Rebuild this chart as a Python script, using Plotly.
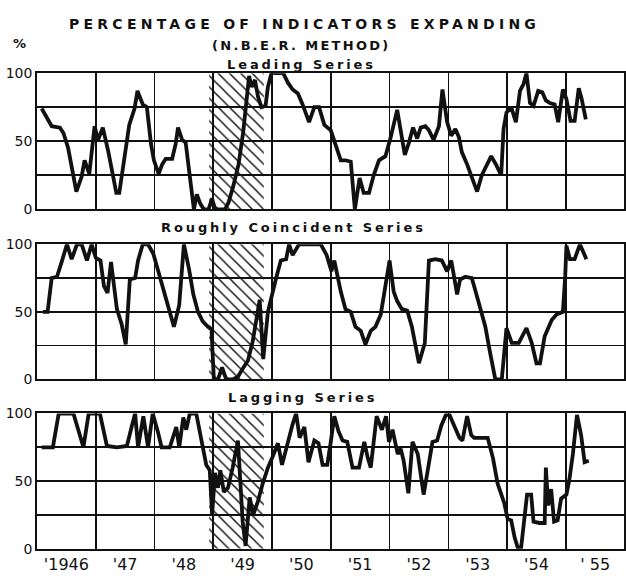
import plotly.graph_objects as go
from plotly.subplots import make_subplots

# ---------------- data ----------------
lead_t = [1946.08, 1946.25, 1946.39, 1946.45, 1946.53, 1946.62, 1946.67, 1946.76, 1946.81, 1946.89,
          1946.98, 1947.04, 1947.12, 1947.21, 1947.29, 1947.35, 1947.40, 1947.52, 1947.57, 1947.66,
          1947.71, 1947.80, 1947.87, 1947.94, 1947.99, 1948.07, 1948.13, 1948.19, 1948.30, 1948.36,
          1948.40, 1948.47, 1948.53, 1948.61, 1948.67, 1948.72, 1948.78, 1948.84, 1948.92, 1948.98,
          1949.03, 1949.20, 1949.26, 1949.34, 1949.43, 1949.51, 1949.57, 1949.61, 1949.65, 1949.71,
          1949.76, 1949.82, 1949.89, 1949.93, 1949.99, 1950.19, 1950.27, 1950.35, 1950.44, 1950.52,
          1950.63, 1950.72, 1950.80, 1950.89, 1951.00, 1951.08, 1951.17, 1951.25, 1951.34, 1951.41,
          1951.49, 1951.56, 1951.65, 1951.73, 1951.82, 1951.93, 1952.02, 1952.13, 1952.19, 1952.26,
          1952.33, 1952.40, 1952.47, 1952.53, 1952.61, 1952.67, 1952.75, 1952.84, 1952.90, 1952.98,
          1953.05, 1953.12, 1953.18, 1953.23, 1953.32, 1953.40, 1953.49, 1953.57, 1953.66, 1953.73,
          1953.81, 1953.90, 1953.94, 1953.99, 1954.07, 1954.15, 1954.22, 1954.28, 1954.33, 1954.39,
          1954.45, 1954.53, 1954.60, 1954.66, 1954.73, 1954.81, 1954.87, 1954.95, 1955.01, 1955.08,
          1955.15, 1955.22, 1955.27, 1955.34]
lead_v = [74, 61, 60, 56, 45, 26, 13, 24, 36, 26,
          61, 51, 60, 43, 26, 12, 12, 48, 62, 74,
          87, 77, 75, 48, 36, 26, 33, 37, 37, 48,
          60, 51, 49, 21, 0, 11, 4, 0, 0, 8,
          0, 0, 5, 17, 33, 57, 81, 98, 90, 95,
          83, 75, 76, 90, 100, 100, 93, 88, 85, 77,
          64, 75, 75, 62, 58, 48, 36, 36, 35, 0,
          23, 12, 12, 25, 36, 39, 53, 73, 57, 40,
          49, 60, 52, 60, 61, 58, 51, 61, 88, 64,
          54, 59, 53, 42, 33, 24, 13, 25, 33, 39,
          33, 25, 59, 71, 75, 64, 87, 92, 100, 78,
          76, 87, 86, 80, 78, 77, 64, 88, 81, 65,
          65, 89, 81, 66]

coin_t = [1946.10, 1946.18, 1946.25, 1946.34, 1946.42, 1946.51, 1946.59, 1946.68, 1946.76, 1946.85,
          1946.93, 1947.00, 1947.08, 1947.14, 1947.20, 1947.26, 1947.36, 1947.44, 1947.51, 1947.58,
          1947.67, 1947.72, 1947.80, 1947.89, 1947.98, 1948.06, 1948.18, 1948.26, 1948.33, 1948.42,
          1948.50, 1948.59, 1948.66, 1948.74, 1948.82, 1948.91, 1948.97, 1949.01, 1949.08, 1949.15,
          1949.22, 1949.33, 1949.42, 1949.50, 1949.59, 1949.67, 1949.79, 1949.85, 1949.93, 1950.07,
          1950.15, 1950.24, 1950.29, 1950.35, 1950.46, 1950.83, 1950.93, 1951.01, 1951.06, 1951.17,
          1951.25, 1951.34, 1951.42, 1951.51, 1951.59, 1951.68, 1951.76, 1951.85, 1951.93, 1952.00,
          1952.07, 1952.13, 1952.21, 1952.30, 1952.38, 1952.50, 1952.60, 1952.67, 1952.78, 1952.89,
          1952.98, 1953.05, 1953.15, 1953.20, 1953.29, 1953.40, 1953.51, 1953.63, 1953.71, 1953.80,
          1953.91, 1953.99, 1954.08, 1954.20, 1954.33, 1954.42, 1954.50, 1954.56, 1954.64, 1954.76,
          1954.84, 1954.95, 1954.99, 1955.01, 1955.07, 1955.15, 1955.24, 1955.35]
coin_v = [50, 50, 75, 76, 87, 100, 89, 100, 100, 88,
          100, 90, 88, 69, 64, 87, 52, 41, 26, 74,
          75, 88, 100, 100, 93, 81, 64, 52, 39, 55,
          100, 81, 63, 50, 43, 39, 37, 0, 0, 9,
          0, 0, 2, 8, 14, 28, 59, 15, 50, 75,
          88, 89, 100, 92, 100, 100, 92, 80, 88, 65,
          52, 50, 39, 36, 26, 36, 39, 48, 70, 88,
          65, 58, 52, 51, 39, 12, 27, 88, 89, 88,
          80, 88, 63, 74, 76, 75, 58, 39, 20, 0,
          0, 38, 27, 27, 38, 27, 12, 12, 32, 44,
          48, 50, 77, 99, 89, 89, 100, 89]

lag_t = [1946.08, 1946.27, 1946.37, 1946.62, 1946.79, 1946.88, 1947.07, 1947.19, 1947.36, 1947.53,
         1947.61, 1947.67, 1947.72, 1947.81, 1947.89, 1947.97, 1948.06, 1948.12, 1948.26, 1948.37,
         1948.42, 1948.49, 1948.54, 1948.60, 1948.71, 1948.82, 1948.88, 1948.94, 1948.98, 1949.03,
         1949.08, 1949.12, 1949.18, 1949.25, 1949.33, 1949.42, 1949.50, 1949.55, 1949.62, 1949.68,
         1949.76, 1949.84, 1949.93, 1950.01, 1950.10, 1950.17, 1950.27, 1950.35, 1950.41, 1950.47,
         1950.55, 1950.62, 1950.72, 1950.79, 1950.86, 1950.94, 1951.00, 1951.06, 1951.13, 1951.20,
         1951.28, 1951.37, 1951.48, 1951.57, 1951.63, 1951.68, 1951.78, 1951.87, 1951.94, 1951.99,
         1952.05, 1952.14, 1952.19, 1952.24, 1952.32, 1952.39, 1952.48, 1952.58, 1952.65, 1952.73,
         1952.81, 1952.88, 1952.96, 1953.02, 1953.10, 1953.19, 1953.24, 1953.32, 1953.39, 1953.44,
         1953.67, 1953.76, 1953.84, 1953.90, 1953.95, 1954.01, 1954.07, 1954.13, 1954.18, 1954.24,
         1954.30, 1954.34, 1954.41, 1954.45, 1954.55, 1954.64, 1954.66, 1954.70, 1954.75, 1954.80,
         1954.86, 1954.92, 1955.01, 1955.06, 1955.12, 1955.19, 1955.26, 1955.32, 1955.39]
lag_v = [75, 75, 100, 100, 75, 100, 100, 76, 75, 76,
         90, 100, 75, 98, 75, 100, 86, 75, 75, 90,
         75, 97, 88, 100, 100, 75, 62, 58, 25, 56,
         45, 58, 42, 45, 60, 80, 20, 2, 38, 25,
         35, 48, 60, 68, 78, 62, 80, 92, 100, 82,
         90, 64, 80, 78, 62, 62, 79, 98, 87, 80,
         79, 60, 60, 79, 67, 60, 98, 88, 98, 79,
         88, 70, 74, 65, 41, 79, 70, 40, 58, 79,
         80, 91, 99, 99, 91, 82, 80, 98, 84, 82,
         82, 67, 48, 40, 34, 22, 21, 8, 1, 1,
         27, 40, 40, 20, 19, 19, 60, 32, 44, 20,
         21, 37, 40, 51, 70, 99, 84, 64, 65]

recession = [1948.93, 1949.86]          # shaded business-cycle contraction
years = list(range(1946, 1957))
year_labels = ["'1946", "'47", "'48", "'49", "'50", "'51", "'52", "'53", "'54", "' 55"]
panel_titles = ["Leading Series", "Roughly Coincident Series", "Lagging Series"]
series = [(lead_t, lead_v), (coin_t, coin_v), (lag_t, lag_v)]

# ---------------- figure ----------------
W, H = 626, 580
L, R = 37, 0
rows_px = [(67, 207), (243, 382), (417, 556)]   # pixel rows (top, bottom)

fig = make_subplots(rows=3, cols=1)
FONT = "DejaVu Sans"
INK = "#111111"

for i, ((t, v), (top, bot)) in enumerate(zip(series, rows_px), start=1):
    fig.add_trace(go.Scatter(
        x=[recession[0], recession[1], recession[1], recession[0], recession[0]],
        y=[0, 0, 100, 100, 0], mode="lines", fill="toself",
        fillcolor="rgba(0,0,0,0)",
        fillpattern=dict(shape="\\", size=8, solidity=0.18, fgcolor=INK,
                         bgcolor="rgba(0,0,0,0)", fgopacity=1),
        line=dict(width=0), hoverinfo="skip", showlegend=False), row=i, col=1)
    fig.add_trace(go.Scatter(x=t, y=v, mode="lines",
                             line=dict(color=INK, width=3.8),
                             showlegend=False), row=i, col=1)
    yname = "yaxis" if i == 1 else f"yaxis{i}"
    xname = "xaxis" if i == 1 else f"xaxis{i}"
    fig.layout[yname].update(
        domain=[1 - bot / H, 1 - top / H], range=[0, 100],
        tickvals=[0, 25, 50, 75, 100], ticktext=["0", "", "50", "", "100"],
        showgrid=True, gridcolor=INK, gridwidth=1.6, zeroline=False,
        showline=True, mirror=True, linecolor=INK, linewidth=1.8,
        ticks="", ticklen=0,
        tickfont=dict(family=FONT, size=14, color=INK))
    fig.layout[xname].update(
        range=[1946, 1955.99], showgrid=False, zeroline=False,
        tickvals=[y + 0.5 for y in years[:-1]],
        ticktext=year_labels if i == 3 else [""] * len(year_labels),
        ticks="", showline=True, mirror=True, linecolor=INK, linewidth=2,
        minor=dict(tickvals=years, showgrid=True, gridcolor=INK, gridwidth=1.6),
        tickfont=dict(family=FONT, size=16, color=INK))

def px_x(p):
    return (p - L) / (W - L - R)

def px_y(p):
    return 1 - p / H

ann = [
    dict(text="PERCENTAGE OF INDICATORS EXPANDING", sp=4.25, x=305, y=16, size=14),
    dict(text="(N.B.E.R. METHOD)", sp=2.3, x=302, y=39, size=13),
    dict(text="%", sp=0, x=19, y=37, size=13),
    dict(text=panel_titles[0], sp=2.9, x=302, y=58, size=13),
    dict(text=panel_titles[1], sp=2.9, x=294, y=226, size=13),
    dict(text=panel_titles[2], sp=2.9, x=303, y=401, size=13),
]
for a in ann:
    txt = a["text"]
    if a["sp"]:
        txt = '<span style="letter-spacing:%.2fpx">%s</span>' % (a["sp"], txt)
    fig.add_annotation(text="<b>" + txt + "</b>", x=px_x(a["x"]), y=px_y(a["y"]),
                       xref="paper", yref="paper", showarrow=False,
                       xanchor="center", yanchor="middle",
                       font=dict(family=FONT, size=a["size"], color=INK))

fig.update_layout(width=W, height=H, margin=dict(l=L, r=R, t=0, b=0),
                  paper_bgcolor="white", plot_bgcolor="white",
                  showlegend=False, hovermode=False)
fig.write_html("out.html",
               config={"displayModeBar": False, "staticPlot": True},
               post_script="document.body.style.margin='0';"
                           "document.body.style.padding='0';"
                           "document.documentElement.style.overflow='hidden';")
